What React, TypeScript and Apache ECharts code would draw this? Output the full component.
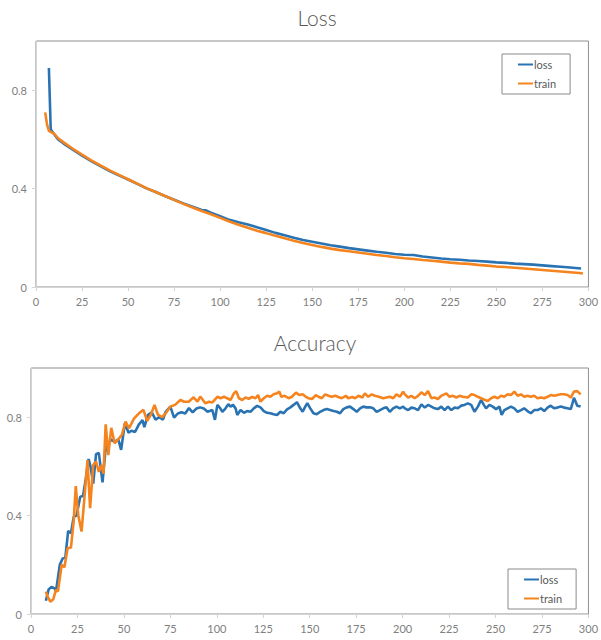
import React, { useEffect, useRef } from "react";
import * as echarts from "echarts";

const BLUE = "#2a73b3";
const ORANGE = "#f5841f";
const FONT = "Lato, 'Open Sans', sans-serif";

// Loss chart: [epoch, value]
const lossChartLoss: [number, number][] = [
  [7, 0.89], [8, 0.64], [10, 0.62], [12, 0.6], [15, 0.583], [20, 0.558], [25, 0.534], [30, 0.512],
  [35, 0.491], [40, 0.471], [45, 0.454], [50, 0.437], [55, 0.419], [60, 0.401], [65, 0.386],
  [70, 0.37], [75, 0.355], [80, 0.34], [85, 0.326], [90, 0.313], [92, 0.312], [95, 0.302],
  [100, 0.288], [105, 0.273], [110, 0.263], [115, 0.254], [120, 0.243], [125, 0.232], [130, 0.22],
  [135, 0.21], [140, 0.2], [145, 0.191], [150, 0.184], [155, 0.177], [160, 0.17], [165, 0.164],
  [170, 0.158], [175, 0.153], [180, 0.148], [185, 0.143], [190, 0.139], [195, 0.134], [200, 0.131],
  [205, 0.13], [210, 0.124], [215, 0.12], [220, 0.116], [225, 0.113], [230, 0.111], [235, 0.108],
  [240, 0.106], [245, 0.103], [250, 0.1], [255, 0.098], [260, 0.095], [265, 0.093], [270, 0.091],
  [275, 0.088], [280, 0.085], [285, 0.082], [290, 0.079], [296, 0.075],
];
const lossChartTrain: [number, number][] = [
  [5, 0.71], [6, 0.66], [7, 0.635], [10, 0.622], [12, 0.605], [15, 0.588], [20, 0.562], [25, 0.538],
  [30, 0.515], [35, 0.494], [40, 0.474], [45, 0.456], [50, 0.438], [55, 0.42], [60, 0.402],
  [65, 0.386], [70, 0.37], [75, 0.354], [80, 0.338], [85, 0.323], [90, 0.309], [95, 0.296],
  [100, 0.281], [105, 0.266], [110, 0.253], [115, 0.241], [120, 0.229], [125, 0.219], [130, 0.208],
  [135, 0.198], [140, 0.188], [145, 0.179], [150, 0.171], [155, 0.163], [160, 0.156], [165, 0.15],
  [170, 0.145], [175, 0.14], [180, 0.135], [185, 0.13], [190, 0.126], [195, 0.121], [200, 0.117],
  [205, 0.114], [210, 0.11], [215, 0.107], [220, 0.103], [225, 0.099], [230, 0.096], [235, 0.094],
  [240, 0.09], [245, 0.087], [250, 0.083], [255, 0.081], [260, 0.078], [265, 0.075], [270, 0.072],
  [275, 0.069], [280, 0.066], [285, 0.063], [290, 0.06], [295, 0.057], [297, 0.055],
];

// Accuracy chart: [epoch, value]
const accChartLoss: [number, number][] = [
  [8, 0.054], [9.5, 0.1], [11, 0.11], [12.5, 0.105], [13.5, 0.095], [15.5, 0.2], [17, 0.225],
  [18.5, 0.23], [20, 0.338], [21.5, 0.328], [23, 0.395], [24.5, 0.4], [26.5, 0.477], [28, 0.48],
  [29.5, 0.55], [31, 0.63], [32, 0.6], [33.5, 0.53], [35, 0.65], [36.5, 0.655], [38.5, 0.535],
  [40, 0.66], [41.5, 0.69], [43, 0.71], [45, 0.7], [47, 0.71], [48.5, 0.667], [50.5, 0.775],
  [52.5, 0.737], [54, 0.745], [56, 0.74], [58, 0.77], [60, 0.788], [61, 0.76], [63, 0.81],
  [65, 0.82], [67, 0.79], [69, 0.8], [71, 0.79], [72.5, 0.822], [75, 0.843], [77, 0.798],
  [79, 0.815], [81, 0.82], [83, 0.815], [85, 0.837], [87, 0.82], [89, 0.835], [91, 0.84],
  [93, 0.835], [95, 0.822], [97.6, 0.829], [99, 0.789], [100.3, 0.85], [101.5, 0.84], [103, 0.822],
  [104.7, 0.836], [106.2, 0.853], [107.4, 0.843], [108.7, 0.85], [110.1, 0.836], [111, 0.809],
  [112.8, 0.829], [114.6, 0.818], [116.3, 0.825], [118.1, 0.822], [119.9, 0.836], [121.7, 0.846],
  [123.5, 0.84], [125.3, 0.825], [127, 0.818], [128.8, 0.816], [130.6, 0.812], [132.4, 0.809],
  [134.2, 0.822], [136, 0.816], [137.8, 0.832], [139.6, 0.84], [141.3, 0.85], [143.1, 0.861],
  [144.9, 0.836], [146.2, 0.822], [147.6, 0.843], [148.7, 0.857], [150.3, 0.836], [152, 0.816],
  [153.8, 0.812], [155.6, 0.822], [157.4, 0.829], [159.2, 0.833], [161, 0.829], [162.8, 0.825],
  [164.6, 0.822], [166.3, 0.816], [168.1, 0.833], [169.9, 0.84], [171.7, 0.843], [173.5, 0.833],
  [175.3, 0.822], [177.1, 0.836], [178.8, 0.843], [180.6, 0.84], [182.4, 0.84], [184.2, 0.836],
  [186, 0.822], [187.8, 0.829], [189.6, 0.836], [191.3, 0.84], [193.1, 0.822], [194.9, 0.836],
  [196.7, 0.843], [198.5, 0.836], [200.3, 0.843], [201.2, 0.836], [203, 0.829], [204.7, 0.839],
  [206.5, 0.836], [208.3, 0.829], [210.1, 0.852], [211.9, 0.839], [213.7, 0.85], [215.5, 0.843],
  [217.2, 0.836], [219, 0.833], [220.8, 0.843], [222.6, 0.829], [224.4, 0.843], [226.2, 0.829],
  [228, 0.839], [229.7, 0.836], [231.5, 0.847], [233.3, 0.85], [235.1, 0.856], [236.9, 0.85],
  [238.7, 0.822], [240.5, 0.843], [242.2, 0.87], [243.7, 0.85], [244.9, 0.836], [246.7, 0.85],
  [248.5, 0.843], [250.3, 0.833], [252.1, 0.843], [253.3, 0.809], [254.7, 0.829], [256.5, 0.836],
  [258.3, 0.843], [260.1, 0.836], [261.9, 0.822], [263.7, 0.829], [265.4, 0.836], [267.2, 0.825],
  [269, 0.816], [270.8, 0.829], [272.6, 0.829], [274.4, 0.836], [276.2, 0.825], [278, 0.839],
  [279.7, 0.847], [281.5, 0.836], [283.3, 0.839], [285.1, 0.843], [286.9, 0.839], [288.7, 0.836],
  [290.5, 0.833], [291.4, 0.856], [292.2, 0.879], [294, 0.847], [295.8, 0.843],
];
const accChartTrain: [number, number][] = [
  [8, 0.091], [9, 0.07], [10.4, 0.05], [12, 0.06], [13.4, 0.098], [14.5, 0.092], [16.5, 0.2],
  [18, 0.19], [19.7, 0.267], [21.5, 0.27], [23, 0.38], [24.1, 0.52], [25.4, 0.402], [27.2, 0.335],
  [28.5, 0.45], [30.4, 0.626], [31.8, 0.43], [33.5, 0.606], [35, 0.62], [36.5, 0.578], [38, 0.606],
  [39, 0.57], [40.2, 0.771], [41.6, 0.646], [43.2, 0.757], [45, 0.694], [47, 0.71], [49, 0.73],
  [50.9, 0.782], [52.7, 0.755], [55.5, 0.795], [58.1, 0.816], [60.5, 0.83], [62.5, 0.785],
  [64.5, 0.81], [66.5, 0.85], [68.3, 0.81], [70.6, 0.8], [72.9, 0.82], [75, 0.843], [77.5, 0.85],
  [80.4, 0.87], [82.5, 0.863], [84.9, 0.863], [87.5, 0.881], [89.6, 0.863], [91.1, 0.884],
  [93.8, 0.857], [95.8, 0.863], [97.6, 0.86], [100.3, 0.883], [102.1, 0.877], [103.8, 0.883],
  [105.6, 0.877], [107.4, 0.87], [109.2, 0.897], [110.4, 0.906], [111.9, 0.877], [113.7, 0.87],
  [115.4, 0.88], [117.2, 0.875], [119, 0.882], [120.8, 0.877], [122.2, 0.89], [123.5, 0.863],
  [125.3, 0.877], [127.1, 0.887], [128.8, 0.883], [130.6, 0.893], [132.4, 0.897], [133.7, 0.904],
  [134.7, 0.883], [136.5, 0.887], [138.7, 0.877], [140.4, 0.883], [142.6, 0.9], [144.4, 0.89],
  [146.2, 0.893], [147.9, 0.883], [149.4, 0.877], [151.2, 0.874], [153.3, 0.89], [154.7, 0.883],
  [156.5, 0.877], [158.3, 0.893], [160.1, 0.887], [161.9, 0.883], [163.7, 0.887], [165.4, 0.882],
  [167.2, 0.877], [169.4, 0.887], [170.8, 0.877], [172.9, 0.882], [174.4, 0.877], [176.2, 0.887],
  [178.3, 0.88], [179.7, 0.897], [181.5, 0.883], [183.3, 0.893], [185.1, 0.887], [187.2, 0.883],
  [189.5, 0.877], [191.3, 0.88], [193.1, 0.883], [194.9, 0.877], [196.7, 0.893], [198.5, 0.883],
  [200.3, 0.904], [201.2, 0.893], [203, 0.88], [204.7, 0.887], [206.5, 0.877], [208.3, 0.887],
  [210.1, 0.901], [211.9, 0.89], [213.7, 0.906], [215.5, 0.877], [217.2, 0.88], [219, 0.874],
  [220.8, 0.887], [223.5, 0.897], [225.3, 0.883], [227.1, 0.887], [228.9, 0.88], [230.6, 0.887],
  [232.4, 0.883], [235.1, 0.88], [236.9, 0.893], [238.7, 0.89], [240.5, 0.883], [242.2, 0.877],
  [244.4, 0.87], [245.8, 0.866], [247.6, 0.877], [249.4, 0.883], [251.2, 0.877], [253, 0.887],
  [254.7, 0.883], [256.5, 0.893], [258.3, 0.89], [260.1, 0.904], [261.9, 0.887], [263.7, 0.893],
  [265.4, 0.883], [267.2, 0.887], [269, 0.883], [270.8, 0.887], [272.6, 0.877], [274.4, 0.88],
  [276.2, 0.877], [278, 0.883], [279.7, 0.89], [281.5, 0.887], [283.3, 0.89], [285.1, 0.893],
  [286.9, 0.893], [288.7, 0.89], [290.5, 0.88], [292.2, 0.904], [294, 0.906], [295.8, 0.893],
];

const seriesNames = ["loss", "train"];
const chartTitles = ["Loss", "Accuracy"];

export default function App() {
  const ref = useRef<HTMLDivElement>(null);
  useEffect(() => {
    if (!ref.current) return;
    const chart = echarts.init(ref.current, undefined, { renderer: "svg" });

    const xAxisBase = (gridIndex: number) => ({
      type: "value",
      gridIndex,
      min: 0,
      max: 300,
      interval: 25,
      splitLine: { show: false },
      axisLine: { show: true, lineStyle: { color: "#d4d4d4", width: 1 } },
      axisTick: { show: true, length: 4, lineStyle: { color: "#d4d4d4" } },
      axisLabel: { color: "#808080", fontSize: 11, fontFamily: FONT, margin: 9 },
    });
    const yAxisBase = (gridIndex: number) => ({
      type: "value",
      gridIndex,
      min: 0,
      max: 1,
      interval: 0.4,
      splitLine: { show: false },
      axisLine: { show: true, lineStyle: { color: "#d4d4d4", width: 1 } },
      axisTick: { show: true, length: 4, lineStyle: { color: "#d4d4d4" } },
      axisLabel: {
        color: "#808080",
        fontSize: 11,
        fontFamily: FONT,
        margin: 9,
        showMaxLabel: false,
      },
    });
    const lineSeries = (name: string, color: string, data: [number, number][], idx: number) => ({
      type: "line",
      name,
      xAxisIndex: idx,
      yAxisIndex: idx,
      data,
      showSymbol: false,
      symbol: "none",
      lineStyle: { color, width: 2.6 },
      itemStyle: { color },
    });
    const legendBase = (left: number, top: number) => ({
      data: seriesNames,
      orient: "vertical",
      left,
      top,
      padding: [4, 14, 4, 16],
      itemGap: 6,
      itemWidth: 15,
      itemHeight: 2,
      icon: "rect",
      borderColor: "#8a8a8a",
      borderWidth: 1,
      textStyle: { color: "#595959", fontSize: 11, fontFamily: FONT, lineHeight: 13, padding: [0, 0, 0, -4] },
    });

    chart.setOption({
      animation: false,
      backgroundColor: "#ffffff",
      grid: [
        { left: 36, top: 41, width: 556, height: 246, show: true, borderColor: "#8f8f8f", borderWidth: 1 },
        { left: 31, top: 368, width: 559, height: 246, show: true, borderColor: "#8f8f8f", borderWidth: 1 },
      ],
      xAxis: [xAxisBase(0), xAxisBase(1)],
      yAxis: [yAxisBase(0), yAxisBase(1)],
      legend: [legendBase(502, 54), legendBase(508, 569)],
      graphic: [
        {
          type: "text",
          x: 317,
          y: 17,
          style: {
            text: chartTitles[0],
            fill: "#595959",
            font: `300 21px ${FONT}`,
            textAlign: "center",
            textVerticalAlign: "middle",
          },
        },
        {
          type: "text",
          x: 315,
          y: 342,
          style: {
            text: chartTitles[1],
            fill: "#595959",
            font: `300 21px ${FONT}`,
            textAlign: "center",
            textVerticalAlign: "middle",
          },
        },
      ],
      series: [
        lineSeries(seriesNames[0], BLUE, lossChartLoss, 0),
        lineSeries(seriesNames[1], ORANGE, lossChartTrain, 0),
        lineSeries(seriesNames[0], BLUE, accChartLoss, 1),
        lineSeries(seriesNames[1], ORANGE, accChartTrain, 1),
      ],
    });
    return () => chart.dispose();
  }, []);
  return (
    <div
      ref={ref}
      style={{ position: "fixed", left: 0, top: 0, width: 601, height: 640, background: "#fff" }}
    />
  );
}
